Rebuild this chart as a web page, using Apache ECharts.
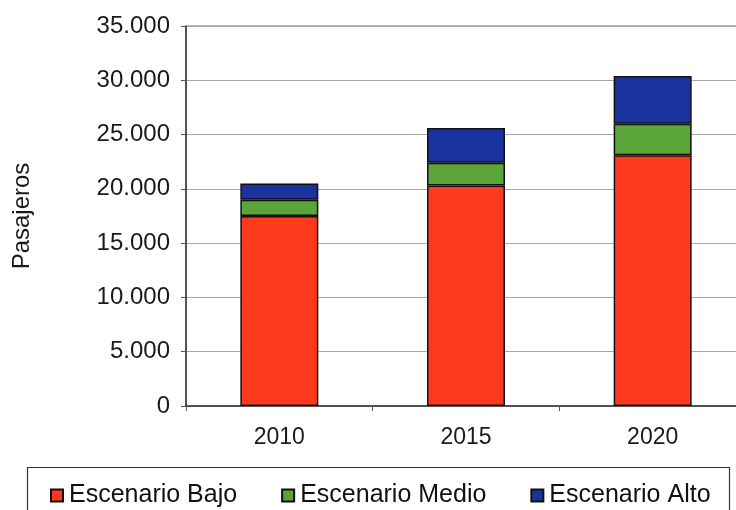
<!DOCTYPE html>
<html>
<head>
<meta charset="utf-8">
<script src="https://cdn.jsdelivr.net/npm/echarts@6/dist/echarts.min.js"></script>
<style>
  html, body { margin: 0; padding: 0; background: #ffffff; overflow: hidden; }
  #frame { width: 736px; height: 510px; overflow: hidden; }
  #chart { width: 770px; height: 510px; }
</style>
</head>
<body>
<div id="frame"><div id="chart"></div></div>
<script>
// Passenger projections by scenario (stacked increments)
const years = ['2010', '2015', '2020'];
const bajo = [17500, 20300, 23100];
const medio = [1500, 2100, 2900];
const alto = [1500, 3200, 4400];
const seriesNames = ['Escenario Bajo', 'Escenario Medio', 'Escenario Alto'];
const seriesColors = ['#FF3A1C', '#5AA43A', '#1B339E'];

const FONT = '"Liberation Sans", Arial, sans-serif';

function thousands(v) {
  return String(v).replace(/\B(?=(\d{3})+(?!\d))/g, '.');
}

const chart = echarts.init(document.getElementById('chart'), null, { renderer: 'canvas' });

const makeSeries = (name, data, color) => ({
  name: name,
  type: 'bar',
  stack: 'total',
  barWidth: 78,
  data: data,
  itemStyle: { color: color, borderColor: '#111', borderWidth: 1.5 },
  emphasis: { disabled: true }
});

chart.setOption({
  backgroundColor: '#ffffff',
  animation: false,
  textStyle: { fontFamily: FONT },
  grid: {
    left: 186, top: 26, width: 560, height: 380,
    show: true, borderColor: '#6b6b82', borderWidth: 1, backgroundColor: 'transparent'
  },
  legend: {
    left: 45, top: 478,
    itemWidth: 12, itemHeight: 12, itemGap: 44,
    icon: 'rect',
    textStyle: { fontFamily: FONT, fontSize: 25, color: '#111', padding: [0, 0, 0, 1] },
    data: seriesNames
  },
  graphic: [{
    type: 'rect',
    shape: { x: 27.5, y: 467.5, width: 702, height: 60 },
    style: { fill: 'none', stroke: '#333', lineWidth: 1.2 },
    z: -1
  }],
  xAxis: {
    type: 'category',
    data: years,
    axisLine: { lineStyle: { color: '#333', width: 1.5 } },
    axisTick: { show: true, length: 5, lineStyle: { color: '#555' } },
    axisLabel: { fontSize: 23, color: '#1a1a1a', margin: 20, fontFamily: FONT },
    splitLine: { show: false }
  },
  yAxis: {
    type: 'value',
    min: 0, max: 35000, interval: 5000,
    name: 'Pasajeros',
    nameLocation: 'middle',
    nameGap: 152,
    nameTextStyle: { fontSize: 24, color: '#1a1a1a', fontFamily: FONT },
    axisLine: { show: true, lineStyle: { color: '#333', width: 1.5 } },
    axisTick: { show: true, length: 5, lineStyle: { color: '#555' } },
    axisLabel: { fontSize: 24, color: '#1a1a1a', margin: 16, fontFamily: FONT, formatter: thousands },
    splitLine: { show: true, lineStyle: { color: '#a9a9a9', width: 1.2 } }
  },
  series: [
    makeSeries(seriesNames[0], bajo, seriesColors[0]),
    makeSeries(seriesNames[1], medio, seriesColors[1]),
    makeSeries(seriesNames[2], alto, seriesColors[2])
  ]
});
</script>
</body>
</html>
